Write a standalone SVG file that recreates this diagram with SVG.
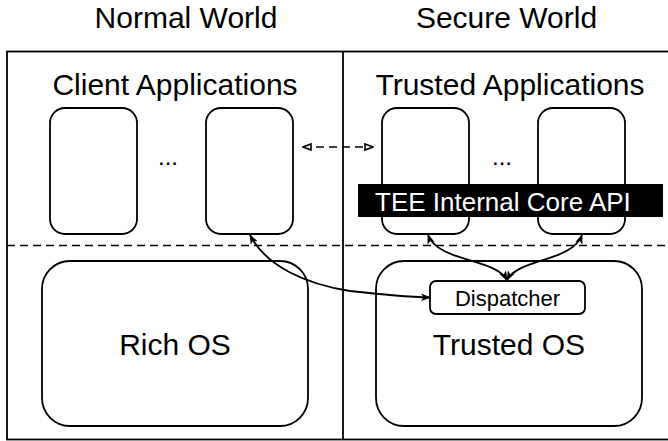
<svg xmlns="http://www.w3.org/2000/svg" width="668" height="441" viewBox="0 0 668 441">
<defs>
<style>
.t{font-family:"Liberation Sans",Arial,sans-serif;fill:#000;text-anchor:middle}
.box{fill:#fff;stroke:#000;stroke-width:1.8}
.ln{fill:none;stroke:#000;stroke-width:1.8}
.dash{fill:none;stroke:#000;stroke-width:1.6;stroke-dasharray:8 5}
</style>
<marker id="fa" viewBox="0 0 10 10" refX="9" refY="5" markerWidth="10" markerHeight="10" orient="auto-start-reverse" markerUnits="userSpaceOnUse">
<path d="M0,1.2 L10,5 L0,8.8 L2.5,5 Z" fill="#000"/>
</marker>
<marker id="oa" viewBox="0 0 10 10" refX="9" refY="5" markerWidth="10" markerHeight="10" orient="auto-start-reverse" markerUnits="userSpaceOnUse">
<path d="M1,2 L9,5 L1,8 Z" fill="#fff" stroke="#000" stroke-width="1.6"/>
</marker>
</defs>
<rect width="668" height="441" fill="#fff"/>
<g id="frame">
<rect x="7" y="51.5" width="670" height="388" fill="none" stroke="#000" stroke-width="1.8"/>
<line x1="343" y1="51.5" x2="343" y2="440" stroke="#000" stroke-width="1.8"/>
<line x1="7" y1="245.5" x2="668" y2="245.5" class="dash"/>
<text class="t" x="186" y="28" font-size="30">Normal World</text>
<text class="t" x="506.5" y="28" font-size="30">Secure World</text>
</g>
<g id="client-apps">
<text class="t" x="175" y="95" font-size="30">Client Applications</text>
<rect class="box" x="50" y="108" width="87" height="126" rx="15"/>
<text class="t" x="168" y="165" font-size="24">...</text>
<rect class="box" x="206" y="108" width="87" height="126" rx="15"/>
</g>
<g id="trusted-apps">
<text class="t" x="510" y="95" font-size="30">Trusted Applications</text>
<rect class="box" x="382" y="108" width="87" height="126" rx="15"/>
<text class="t" x="502" y="165" font-size="24">...</text>
<rect class="box" x="538" y="108" width="87" height="126" rx="15"/>
</g>
<g id="tee-api">
<rect x="358" y="184" width="305" height="33" fill="#000"/>
<text x="375" y="211" font-size="26" font-family="'Liberation Sans',Arial,sans-serif" fill="#fff">TEE Internal Core API</text>
</g>
<g id="rich-os">
<rect class="box" x="42" y="261" width="266" height="165" rx="28"/>
<text class="t" x="175" y="355" font-size="30">Rich OS</text>
</g>
<g id="trusted-os">
<rect class="box" x="376" y="261" width="266" height="165" rx="28"/>
<text class="t" x="509" y="355" font-size="30">Trusted OS</text>
</g>
<g id="dispatcher">
<rect class="box" x="430" y="281" width="155" height="33" rx="6"/>
<text class="t" x="507.5" y="306" font-size="22">Dispatcher</text>
</g>
<g id="connectors">
<line x1="303" y1="147" x2="373" y2="147" class="dash" stroke-dasharray="6 4" marker-start="url(#oa)" marker-end="url(#oa)"/>
<path class="ln" d="M250,235 C266,266 305,284 350,291 C385,295 410,297 430,297.5" marker-start="url(#fa)" marker-end="url(#fa)"/>
<path class="ln" d="M428,235 C438,262 495,258 507,280" marker-start="url(#fa)" marker-end="url(#fa)"/>
<path class="ln" d="M582,235 C572,262 519,258 507,280" marker-start="url(#fa)" marker-end="url(#fa)"/>
</g>
</svg>
